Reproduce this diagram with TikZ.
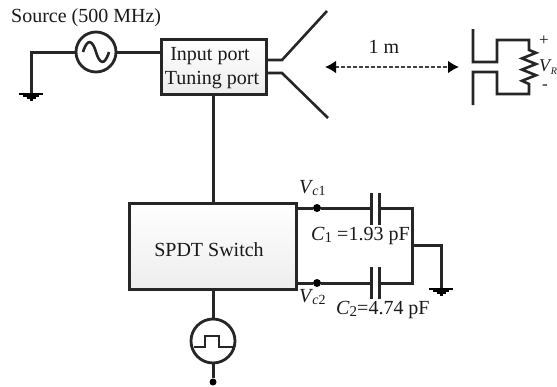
\documentclass[tikz,border=0pt]{standalone}
\usepackage{fontspec}
\setmainfont{Liberation Serif}
\usetikzlibrary{arrows.meta}
\tikzset{
  x=1pt,y=-1pt,
  wire/.style={line width=3pt,color=black!85,line join=miter},
  thinwire/.style={line width=2.6pt,color=black!85,line join=miter},
  blockbox/.style={draw=black!85,line width=3pt,top color=white,bottom color=black!7,inner sep=0pt,minimum width=0pt},
  srcircle/.style={circle,draw=black!85,line width=2.8pt,fill=white,inner sep=0pt},
  junction/.style={circle,fill=black,inner sep=0pt,minimum size=8pt},
  lbl/.style={inner sep=0pt,font=\fontsize{20}{22}\selectfont,text=black!90},
  gndbar/.style={line width=2.4pt,color=black},
  ground/.pic={
    \draw[gndbar] (-12,0) -- (12,0);
    \draw[gndbar] (-8,2) -- (8,2);
    \draw[gndbar] (-4.5,4) -- (4.5,4);
    \draw[gndbar] (-1.5,6) -- (1.5,6);
  }
}
\begin{document}
\begin{tikzpicture}
\useasboundingbox (0,0) rectangle (557,386);
% top blocks
\node[blockbox,minimum width=105pt,minimum height=55pt] (tuner) at (213.5,66.5) {};
\node[lbl] (inp) at (210,56) {Input port};
\node[lbl] (tun) at (212,80) {Tuning port};
\node[srcircle,minimum size=40pt] (src) at (96,52) {};
\draw[line width=2.6pt,black!85] (83,52) .. controls (88,36) and (93,42) .. (96,52) .. controls (99,62) and (104,68) .. (109,52);
\node[lbl,anchor=west] (srclbl) at (11,18) {Source (500 MHz)};
\coordinate (gnda) at (31,94);
\coordinate (gndb) at (31,52);
\draw[wire] (src.west) -- (gndb) -- (gnda);
\pic at (gnda) {ground};
\draw[wire] (src.east) -- (tuner.west |- src.east);
% antenna
\coordinate (a1) at (266,60); \coordinate (a2) at (282,60); \coordinate (a3) at (327,11);
\coordinate (b1) at (266,73); \coordinate (b2) at (282,73); \coordinate (b3) at (328,118);
\draw[thinwire] (a1) -- (a2) -- (a3);
\draw[thinwire] (b1) -- (b2) -- (b3);
% dashed arrow
\coordinate (da) at (325,67); \coordinate (db) at (459,67);
\draw[line width=2.8pt,black!75,dash pattern=on 4.5pt off 1.5pt,{Latex[length=11pt,width=13pt,black]}-{Latex[length=11pt,width=13pt,black]}] (da) -- (db);
\node[lbl] (dist) at (384,47) {1 m};
% receiver
\coordinate (r1) at (473,29); \coordinate (r2) at (473,62); \coordinate (r3) at (497,62); \coordinate (r4) at (497,40);
\coordinate (r5) at (529,40); \coordinate (r6) at (529,50); \coordinate (r7) at (529,84); \coordinate (r8) at (529,94);
\coordinate (r9) at (497,94); \coordinate (r10) at (497,72); \coordinate (r11) at (473,72); \coordinate (r12) at (473,105);
\draw[thinwire] (r1) -- (r2) -- (r3) -- (r4) -- (r5) -- (r6)
  -- ++(7,2.8) -- ++(-14,5.6) -- ++(14,5.6) -- ++(-14,5.6) -- ++(14,5.6) -- ++(-14,5.6) -- (r7) -- (r8) -- (r9) -- (r10) -- (r11) -- (r12);
\node[lbl,font=\fontsize{17}{19}\selectfont] (plus) at (544,41) {+};
\node[lbl,font=\fontsize{17}{19}\selectfont] (minus) at (545,87) {-};
\node[lbl,anchor=west,font=\fontsize{18}{20}\selectfont] (vr) at (539,67) {\textit{V}\hspace{-1pt}\raisebox{-3pt}{\fontsize{10}{10}\selectfont\textit{R}}};
% switch
\node[blockbox,minimum width=167pt,minimum height=86pt] (sw) at (212.5,246) {};
\node[lbl] (swl) at (209,250) {SPDT Switch};
\draw[wire] (tuner.south) -- (sw.north -| tuner.south);
\node[srcircle,minimum size=44pt] (pulse) at (213,341) {};
\draw[wire] (sw.south -| pulse.north) -- (pulse.north);
\draw[line width=2.4pt,black!85] (194,347) -- (205,347) -- (205,336) -- (219,336) -- (219,347) -- (233,347);
\node[circle,fill=black,inner sep=0pt,minimum size=7pt] (pdot) at (213,382) {};
\draw[wire] (pulse.south) -- (pdot);
% capacitors
\node[junction] (j1) at (317,208) {};
\node[junction] (j2) at (317,283) {};
\coordinate (c1a) at (371,208); \coordinate (c1b) at (379,208);
\coordinate (c2a) at (371,283); \coordinate (c2b) at (379,283);
\coordinate (n1) at (412,208); \coordinate (n2) at (412,283); \coordinate (n3) at (412,245);
\coordinate (n4) at (441,245); \coordinate (g2) at (441,289);
\draw[wire] (sw.east |- j1) -- (j1) -- (c1a);
\draw[wire] (sw.east |- j2) -- (j2) -- (c2a);
\draw[wire] (371,193) -- (371,225);
\draw[wire] (379,193) -- (379,225);
\draw[wire] (371,267) -- (371,299);
\draw[wire] (379,267) -- (379,299);
\draw[wire] (c1b) -- (n1) -- (n2) -- (c2b);
\draw[wire] (n3) -- (n4) -- (g2);
\pic at (g2) {ground};
\node[lbl,anchor=west] (vc1) at (299,188) {\textit{V}\hspace{-1pt}\raisebox{-2.5pt}{\fontsize{14}{14}\selectfont\textit{c}1}};
\node[lbl,anchor=west] (vc2) at (299,297) {\textit{V}\hspace{-1pt}\raisebox{-2.5pt}{\fontsize{14}{14}\selectfont\textit{c}2}};
\node[lbl,anchor=west] (cl1) at (311,236) {\textit{C}\raisebox{-2.5pt}{\fontsize{15}{15}\selectfont 1} =1.93 pF};
\node[lbl,anchor=west] (cl2) at (336,310) {\textit{C}\raisebox{-2.5pt}{\fontsize{15}{15}\selectfont 2}=4.74 pF};
\end{tikzpicture}
\end{document}
